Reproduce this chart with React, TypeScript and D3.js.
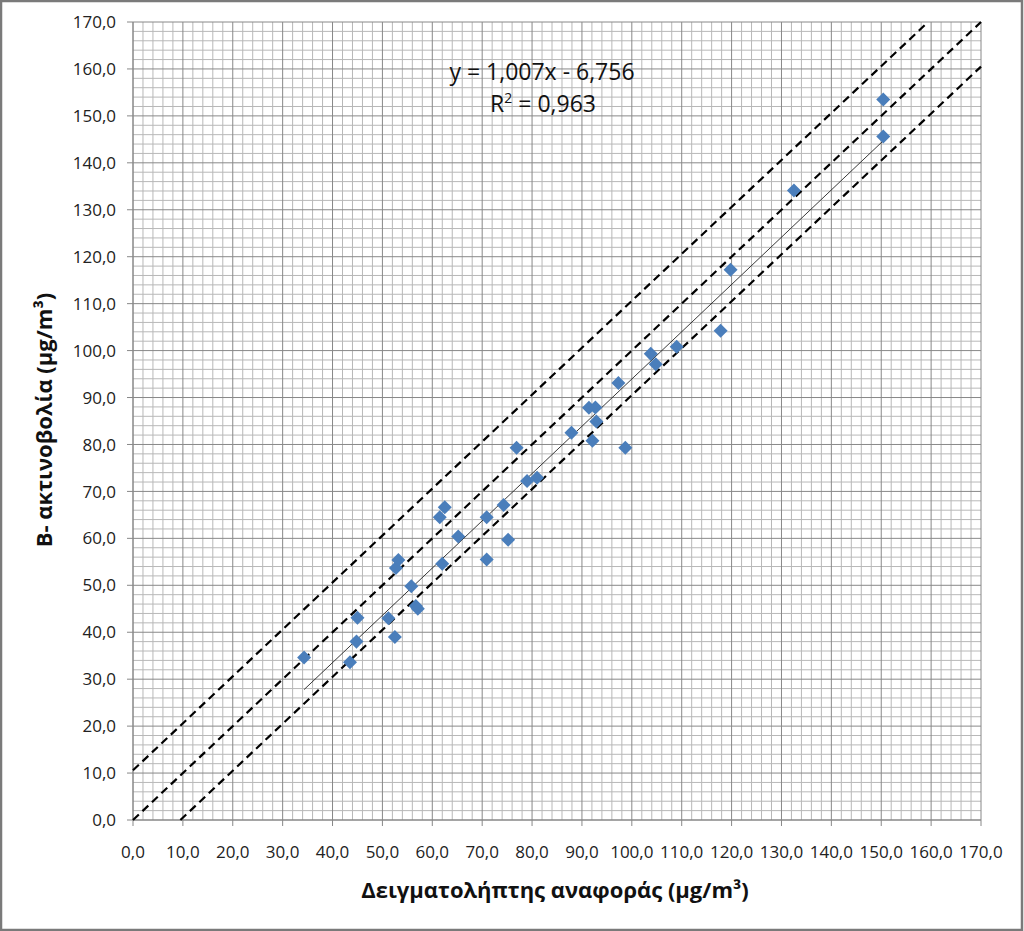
import React from "react";
import * as d3 from "d3";

const refX = [34.3, 43.5, 44.8, 45.0, 51.2, 52.5, 52.7, 53.2, 55.8, 56.7, 57.1, 61.5, 62.0, 62.5, 65.2, 70.9, 70.9, 74.3, 75.2, 76.9, 79.0, 81.0, 87.9, 91.4, 92.1, 92.7, 92.9, 97.3, 98.7, 103.8, 104.8, 109.0, 117.8, 119.8, 132.5, 150.4, 150.4];
const betaY = [34.6, 33.6, 38.0, 43.1, 43.0, 39.0, 53.7, 55.4, 49.8, 45.6, 45.0, 64.5, 54.6, 66.6, 60.4, 64.5, 55.5, 67.1, 59.7, 79.3, 72.2, 72.9, 82.5, 87.8, 80.8, 87.9, 84.9, 93.1, 79.3, 99.3, 97.1, 100.8, 104.2, 117.2, 134.1, 153.5, 145.6];
const trendSlope = 1.007;
const trendIntercept = -6.756;
const bandOffsets = [10.6, 0, -9.5];
const majorTicks = d3.range(0, 171, 10);
const minorTicks = d3.range(0, 171, 2);
const equationText = "y = 1,007x - 6,756";
const r2Value = "0,963";
const xTitle = "Δειγματολήπτης αναφοράς (μg/m³)";
const yTitle = "Β- ακτινοβολία (μg/m³)";

const W = 1024, H = 931;
const font = "'Open Sans', 'DejaVu Sans', sans-serif";

export default function App() {
  const x = d3.scaleLinear().domain([0, 170]).range([133, 981]);
  const y = d3.scaleLinear().domain([0, 170]).range([820, 22]);
  const fmt = (v: number) => v.toFixed(1).replace(".", ",");
  const line = d3.line<[number, number]>().x(d => x(d[0])).y(d => y(d[1]));
  const xmin = d3.min(refX)!, xmax = d3.max(refX)!;
  const diamond = d3.symbol().type(d3.symbolDiamond2).size(125)();

  return (
    <div style={{ position: "absolute", left: 0, top: 0 }}>
      <svg width={W} height={H} style={{ display: "block" }}>
        <rect x={0} y={0} width={W} height={H} fill="#fff" />
        <rect x={1} y={1} width={W - 3} height={H - 2} fill="none" stroke="#7a7a7a" strokeWidth={2.5} />
        {/* minor grid */}
        {minorTicks.filter(t => t % 10 !== 0).map(t => (
          <g key={"m" + t}>
            <line x1={x(t)} x2={x(t)} y1={y(0)} y2={y(170)} stroke="#b8b8b8" strokeWidth={1} />
            <line x1={x(0)} x2={x(170)} y1={y(t)} y2={y(t)} stroke="#b8b8b8" strokeWidth={1} />
          </g>
        ))}
        {/* major grid */}
        {majorTicks.map(t => (
          <g key={"M" + t}>
            <line x1={x(t)} x2={x(t)} y1={y(0)} y2={y(170)} stroke="#888" strokeWidth={1} />
            <line x1={x(0)} x2={x(170)} y1={y(t)} y2={y(t)} stroke="#888" strokeWidth={1} />
          </g>
        ))}
        {/* axes ticks */}
        {majorTicks.map(t => (
          <g key={"t" + t}>
            <line x1={x(0) - 6} x2={x(0)} y1={y(t)} y2={y(t)} stroke="#888" />
            <line x1={x(t)} x2={x(t)} y1={y(0)} y2={y(0) + 6} stroke="#888" />
            <text x={116} y={y(t)} dy="0.36em" textAnchor="end" fontFamily={font} fontSize={17} fill="#222">{fmt(t)}</text>
            <text x={x(t)} y={852} dy="0.36em" textAnchor="middle" fontFamily={font} fontSize={17} fill="#222">{fmt(t)}</text>
          </g>
        ))}
        <line x1={x(0)} x2={x(0)} y1={y(0)} y2={y(170)} stroke="#888" />
        <line x1={x(0)} x2={x(170)} y1={y(0)} y2={y(0)} stroke="#888" />
        {/* dashed band lines */}
        {bandOffsets.map((o, i) => {
          const x0 = Math.max(0, -o), x1 = Math.min(170, 170 - o);
          return (
            <path key={"b" + i} d={line([[x0, x0 + o], [x1, x1 + o]])!} fill="none" stroke="#000" strokeWidth={2.2} strokeDasharray="8,5" />
          );
        })}
        {/* trend line */}
        <path d={line([[xmin, trendSlope * xmin + trendIntercept], [xmax, trendSlope * xmax + trendIntercept]])!} fill="none" stroke="#222" strokeWidth={0.9} />
        {/* points */}
        {refX.map((v, i) => (
          <path key={"p" + i} d={diamond!} transform={`translate(${x(v)},${y(betaY[i])})`} fill="#4a7ebb" />
        ))}
        {/* equation */}
        <text x={542} y={72} dy="0.36em" textAnchor="middle" fontFamily={font} fontSize={23} fill="#111">{equationText}</text>
        <text x={543} y={104} dy="0.36em" textAnchor="middle" fontFamily={font} fontSize={23} fill="#111">
          R<tspan fontSize={14} dy="-9">2</tspan><tspan dy="9"> = {r2Value}</tspan>
        </text>
        {/* titles */}
        <text x={555} y={890} dy="0.36em" textAnchor="middle" fontFamily={font} fontSize={22} fontWeight="bold" fill="#111">{xTitle}</text>
        <text transform={`translate(44,420) rotate(-90)`} dy="0.36em" textAnchor="middle" fontFamily={font} fontSize={22} fontWeight="bold" fill="#111">{yTitle}</text>
      </svg>
    </div>
  );
}
